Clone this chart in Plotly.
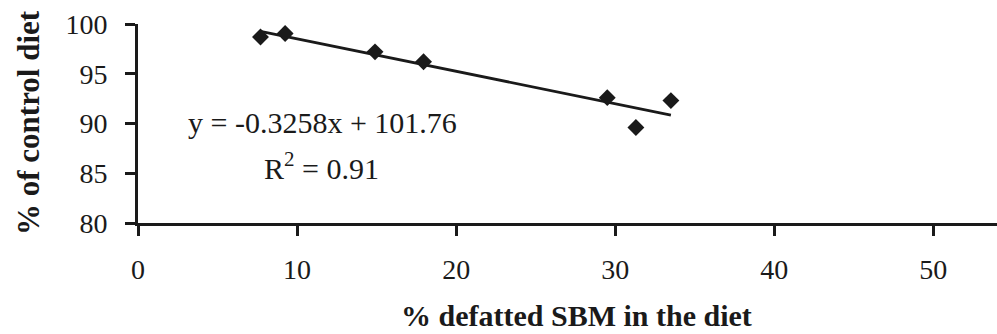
import plotly.graph_objects as go

# Feed intake relative to control vs. level of defatted soybean meal
sbm_pct = [7.7, 9.25, 14.9, 17.95, 29.5, 31.3, 33.5]
pct_of_control = [98.7, 99.05, 97.2, 96.2, 92.6, 89.6, 92.3]

# Linear fit reported on the chart
slope = -0.3258
intercept = 101.76
r_squared = 0.91

x_ticks = [0, 10, 20, 30, 40, 50]
y_ticks = [80, 85, 90, 95, 100]

ink = "#1a1a1a"
serif = "Liberation Serif"

fit_x = [min(sbm_pct), max(sbm_pct)]
fit_y = [slope * v + intercept for v in fit_x]

fig = go.Figure()
fig.add_trace(go.Scatter(
    x=fit_x, y=fit_y, mode="lines",
    line=dict(color=ink, width=2.8),
    hoverinfo="skip", showlegend=False, cliponaxis=False,
))
fig.add_trace(go.Scatter(
    x=sbm_pct, y=pct_of_control, mode="markers",
    marker=dict(symbol="diamond", size=13, color=ink, line=dict(width=0)),
    showlegend=False, cliponaxis=False,
))

# Plot area spans x 138..997 px and y 24..223 px
def px_x(p):
    return (p - 138) / 859


def px_y(p):
    return (223 - p) / 199


fig.add_annotation(
    x=px_x(322), y=px_y(122), xref="paper", yref="paper",
    text=f"y = {slope}x + {intercept}",
    showarrow=False, xanchor="center", yanchor="middle",
    font=dict(family=serif, size=30, color=ink),
)
fig.add_annotation(
    x=px_x(321), y=px_y(166), xref="paper", yref="paper",
    text=f"R<sup>2</sup> = {r_squared}",
    showarrow=False, xanchor="center", yanchor="middle",
    font=dict(family=serif, size=30, color=ink),
)

# Axis titles
fig.add_annotation(
    x=px_x(576), y=px_y(315), xref="paper", yref="paper",
    text="<b>% defatted SBM in the diet</b>", showarrow=False,
    xanchor="center", yanchor="middle",
    font=dict(family=serif, size=30, color=ink),
)
fig.add_annotation(
    x=px_x(28), y=px_y(122), xref="paper", yref="paper",
    text="<b>% of control diet</b>", showarrow=False, textangle=-90,
    xanchor="center", yanchor="middle",
    font=dict(family=serif, size=31, color=ink),
)

fig.update_xaxes(
    range=[0, 54], tickvals=x_ticks, ticktext=[str(v) for v in x_ticks],
    showline=True, linecolor=ink, linewidth=3,
    ticks="outside", ticklen=10, tickwidth=3, tickcolor=ink,
    ticklabelstandoff=9,
    showgrid=False, zeroline=False,
    tickfont=dict(family=serif, size=28, color=ink),
)
fig.update_yaxes(
    range=[80, 100], tickvals=y_ticks, ticktext=[str(v) for v in y_ticks],
    showline=True, linecolor=ink, linewidth=3,
    ticks="outside", ticklen=10, tickwidth=3, tickcolor=ink,
    ticklabelstandoff=12,
    showgrid=False, zeroline=False,
    tickfont=dict(family=serif, size=28, color=ink),
)

fig.update_layout(
    width=997, height=334,
    margin=dict(l=138, r=0, t=24, b=111),
    paper_bgcolor="white", plot_bgcolor="white",
)

fig.write_html("out.html")
